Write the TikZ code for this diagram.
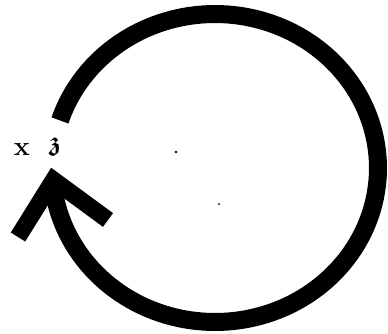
\documentclass[tikz,border=0pt]{standalone}
\usepackage{amsmath,amssymb}
\begin{document}
\begin{tikzpicture}[x=1pt,y=-1pt,
  thick arc/.style={line width=18pt,black},
  barb/.style={line width=17pt,black,line join=miter,line cap=butt},
  lbl/.style={font=\fontsize{27}{30}\selectfont,inner sep=0pt}]
\useasboundingbox (0,0) rectangle (388,333);
\coordinate (tip) at (53.5,180);
\coordinate (lend) at (18,237);
\coordinate (rend) at (108,220);
\draw[thick arc] plot[domain=198:533,samples=150] ({215+163*cos(\x)},{168+154*sin(\x)});
\draw[barb] (lend) -- (tip) -- (rend);
\node[lbl] (x) at (22,149) {\textbf{x}};
\node[lbl] (z) at (55,147) {$\boldsymbol{\mathfrak{z}}$};
\fill (176,152) circle (1.3pt) coordinate (d1);
\fill (219,204) circle (1pt) coordinate (d2);
\end{tikzpicture}
\end{document}
